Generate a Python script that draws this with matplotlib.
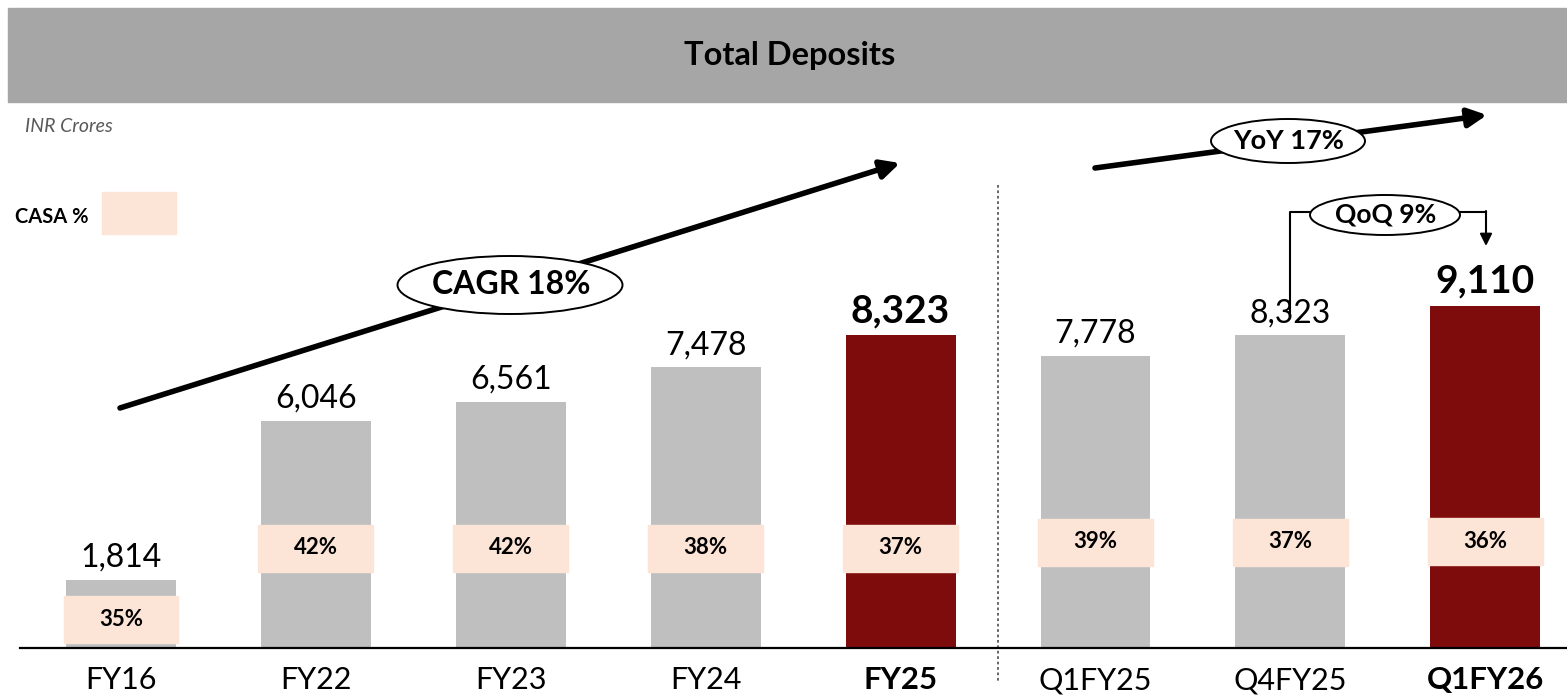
import numpy as np
import matplotlib
matplotlib.use('Agg')
import matplotlib.pyplot as plt
from matplotlib.patches import Ellipse, Rectangle

plt.rcParams['font.family'] = ['Lato', 'DejaVu Sans']

# data
periods = ['FY16', 'FY22', 'FY23', 'FY24', 'FY25', 'Q1FY25', 'Q4FY25', 'Q1FY26']
deposits = [1814, 6046, 6561, 7478, 8323, 7778, 8323, 9110]
casa_pct = [35, 42, 42, 38, 37, 39, 37, 36]
highlight = [False, False, False, False, True, False, False, True]
cagr_label = 'CAGR 18%'
yoy_label = 'YoY 17%'
qoq_label = 'QoQ 9%'

grey = '#BFBFBF'
maroon = '#7F0C0C'
peach = '#FCE4D6'

W, H = 1567, 695
fig = plt.figure(figsize=(W / 100, H / 100), dpi=100)

# header band
fig.patches.append(Rectangle((8 / W, 1 - 102 / H), 1 - 8 / W, 94 / H,
                             transform=fig.transFigure, color='#A6A6A6', zorder=0))
fig.text(790 / W, 1 - 55 / H, 'Total Deposits', ha='center', va='center',
         fontsize=23.5, fontweight='bold', color='black')
fig.text(25 / W, 1 - 127 / H, 'INR Crores', ha='left', va='center',
         fontsize=14, style='italic', color='#595959')
fig.text(15 / W, 1 - 217 / H, 'CASA %', ha='left', va='center',
         fontsize=14.5, fontweight='bold', color='black')
fig.patches.append(Rectangle((102 / W, 1 - 234 / H), 74 / W, 42 / H,
                             transform=fig.transFigure, color=peach))

# main axes, pixel-aligned
px_per_idx = 194.9
px_per_val = 0.03755
x0 = 121
base = 648
top = 110
ax = fig.add_axes([0, (H - base) / H, 1, (base - top) / H])
ax.set_xlim(-x0 / px_per_idx, (W - x0) / px_per_idx)
ax.set_ylim(0, (base - top) / px_per_val)
ax.axis('off')

def py(p):
    # pixel row from top -> value units
    return (base - p) / px_per_val

def pxi(p):
    return (p - x0) / px_per_idx

x = np.arange(len(periods))
colors = [maroon if h else grey for h in highlight]
ax.bar(x, deposits, width=0.564, color=colors, zorder=2)

ax.plot([pxi(20), pxi(W)], [0, 0], color='black', lw=1.6, zorder=3, clip_on=False)

# CASA boxes
casa_y = [py(619), py(548), py(548), py(548), py(548), py(542), py(542), py(541)]
box_w = 0.59
box_h = 47 / px_per_val
for i, c in enumerate(casa_pct):
    ax.add_patch(Rectangle((x[i] - box_w / 2, casa_y[i] - box_h / 2), box_w, box_h,
                           color=peach, zorder=3))
    ax.text(x[i], casa_y[i], f'{c}%', ha='center', va='center', fontsize=16,
            fontweight='bold', zorder=4)

# value labels and x labels
for i, v in enumerate(deposits):
    if highlight[i]:
        ax.text(x[i], v + 7 / px_per_val, f'{v:,}', ha='center', va='bottom',
                fontsize=28, fontweight='bold')
        ax.text(x[i], py(680), periods[i], ha='center', va='center',
                fontsize=22.5, fontweight='bold', clip_on=False)
    else:
        ax.text(x[i], v + 7 / px_per_val, f'{v:,}', ha='center', va='bottom',
                fontsize=23)
        ax.text(x[i], py(680), periods[i], ha='center', va='center',
                fontsize=22, clip_on=False)

# separator
ax.plot([4.5, 4.5], [py(185), py(682)], color='#595959', lw=1.3,
        linestyle=(0, (1.5, 1.5)), clip_on=False, zorder=1)

arrow = dict(arrowstyle='-|>', lw=4, color='black', mutation_scale=28,
             shrinkA=0, shrinkB=0)

# CAGR
ax.annotate('', xy=(pxi(900), py(163)), xytext=(pxi(120), py(408)),
            arrowprops=arrow, zorder=5)
ax.add_patch(Ellipse((pxi(510), py(285)), 225 / px_per_idx, 58 / px_per_val,
                     facecolor='white', edgecolor='black', lw=1.4, zorder=6))
ax.text(pxi(511), py(285), cagr_label, ha='center', va='center', fontsize=23,
        fontweight='bold', zorder=7)

# YoY
ax.annotate('', xy=(pxi(1487), py(115)), xytext=(pxi(1095), py(168)),
            arrowprops=arrow, zorder=5, annotation_clip=False)
ax.add_patch(Ellipse((pxi(1288), py(141)), 154 / px_per_idx, 44 / px_per_val,
                     facecolor='white', edgecolor='black', lw=1.4, zorder=6))
ax.text(pxi(1289), py(141), yoy_label, ha='center', va='center', fontsize=19.5,
        fontweight='bold', zorder=7)

# QoQ bracket
ax.plot([pxi(1290), pxi(1290), pxi(1320)], [py(312), py(212), py(212)],
        color='black', lw=1.5, zorder=5)
ax.plot([pxi(1450), pxi(1486)], [py(212), py(212)], color='black', lw=1.5, zorder=5)
ax.annotate('', xy=(pxi(1486), py(246)), xytext=(pxi(1486), py(211)),
            arrowprops=dict(arrowstyle='-|>', lw=1.5, color='black',
                            mutation_scale=18, shrinkA=0, shrinkB=0), zorder=5)
ax.add_patch(Ellipse((pxi(1385), py(215)), 150 / px_per_idx, 40 / px_per_val,
                     facecolor='white', edgecolor='black', lw=1.4, zorder=6))
ax.text(pxi(1386), py(215), qoq_label, ha='center', va='center', fontsize=19,
        fontweight='bold', zorder=7)

fig.savefig('out.png', dpi=100)
